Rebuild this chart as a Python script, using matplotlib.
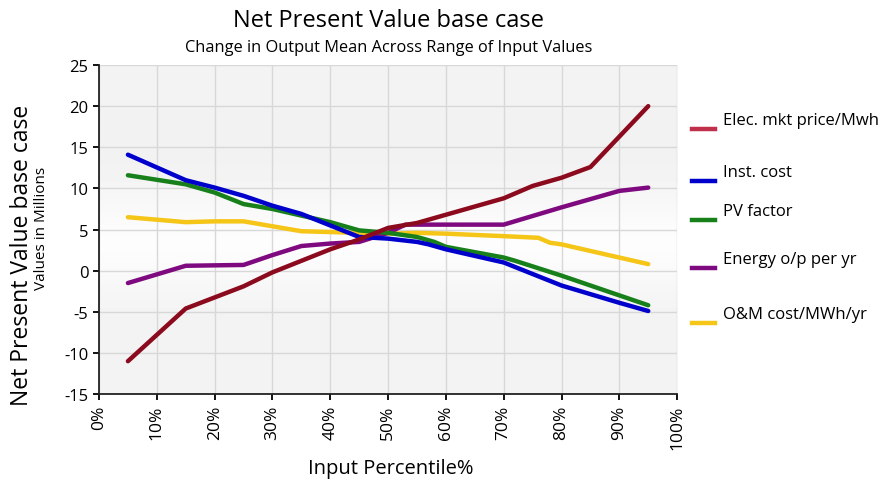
import matplotlib.pyplot as plt
import numpy as np
from matplotlib.lines import Line2D

# Input data (percentile in %, values in millions)
elec_x = [5, 15, 25, 30, 40, 45, 50, 55, 60, 65, 70, 75, 80, 85, 95]
elec_y = [-11.0, -4.6, -1.9, -0.2, 2.6, 3.8, 5.2, 5.8, 6.8, 7.8, 8.8, 10.3, 11.3, 12.6, 20.0]

inst_x = [5, 15, 20, 25, 30, 35, 40, 45, 50, 55, 57, 60, 70, 80, 90, 95]
inst_y = [14.1, 11.0, 10.1, 9.1, 7.9, 6.9, 5.5, 4.1, 3.9, 3.5, 3.2, 2.6, 1.0, -1.8, -3.9, -4.9]

pv_x = [5, 15, 20, 25, 30, 35, 40, 45, 50, 55, 58, 60, 70, 72, 80, 90, 95]
pv_y = [11.6, 10.5, 9.5, 8.1, 7.5, 6.7, 5.9, 4.9, 4.6, 4.1, 3.5, 2.9, 1.6, 1.2, -0.6, -3.0, -4.2]

energy_x = [5, 15, 25, 30, 35, 40, 45, 50, 53, 70, 80, 90, 95]
energy_y = [-1.5, 0.6, 0.7, 1.9, 3.0, 3.3, 3.5, 4.6, 5.6, 5.6, 7.7, 9.7, 10.1]

om_x = [5, 15, 20, 25, 30, 35, 40, 45, 50, 55, 60, 70, 76, 78, 80, 90, 95]
om_y = [6.5, 5.9, 6.0, 6.0, 5.4, 4.8, 4.7, 4.6, 4.5, 4.6, 4.5, 4.2, 4.0, 3.4, 3.2, 1.6, 0.8]

labels = ['Elec. mkt price/Mwh', 'Inst. cost', 'PV factor',
          'Energy o/p per yr', 'O&M cost/MWh/yr']
colors = ['#8c0a1e', '#0000cc', '#17801a', '#7f0a80', '#f5c518']
legend_colors = ['#c0304a', '#0000cc', '#17801a', '#7f0a80', '#f5c518']

plt.rcParams['font.family'] = ['Open Sans', 'DejaVu Sans']

fig = plt.figure(figsize=(8.84, 4.89), dpi=100)
ax = fig.add_axes([0.112, 0.192, 0.654, 0.673])

# soft gray background with lighter band in the middle
grad = np.array([0.955, 0.945, 0.945, 0.975, 1.0, 0.96, 0.95, 0.955])
ax.imshow(grad.reshape(-1, 1), cmap='gray', vmin=0, vmax=1, aspect='auto',
          extent=[0, 1, 0, 1], transform=ax.transAxes, zorder=0,
          interpolation='bicubic')

series = [(elec_x, elec_y), (inst_x, inst_y), (pv_x, pv_y),
          (energy_x, energy_y), (om_x, om_y)]
order = [4, 3, 2, 1, 0]
for i in order:
    x, y = series[i]
    ax.plot(x, y, color=colors[i], linewidth=3.2, solid_capstyle='round', zorder=3)

ax.set_xlim(0, 100)
ax.set_ylim(-15, 25)
ax.set_xticks(np.arange(0, 101, 10))
ax.set_xticklabels([f'{v}%' for v in range(0, 101, 10)], rotation=90, fontsize=12.5)
ax.set_yticks(np.arange(-15, 26, 5))
ax.set_yticklabels([str(v) for v in range(-15, 26, 5)], fontsize=12)
ax.grid(True, color='#d8d8d8', linewidth=1)
ax.set_axisbelow(True)
for s in ['top', 'right']:
    ax.spines[s].set_visible(False)
for s in ['left', 'bottom']:
    ax.spines[s].set_linewidth(1.3)
    ax.spines[s].set_color('#222222')
ax.tick_params(direction='out', length=4, width=1.3)

fig.text(0.44, 0.957, 'Net Present Value base case', ha='center', va='center', fontsize=17)
fig.text(0.44, 0.902, 'Change in Output Mean Across Range of Input Values',
         ha='center', va='center', fontsize=11.8)
fig.text(0.442, 0.04, 'Input Percentile%', ha='center', va='center', fontsize=14.5)
fig.text(0.025, 0.478, 'Net Present Value base case', rotation=90,
         ha='center', va='center', fontsize=16.5)
fig.text(0.047, 0.533, 'Values in Millions', rotation=90,
         ha='center', va='center', fontsize=11)

# manual legend on the right
leg_y = [0.735, 0.628, 0.548, 0.45, 0.338]
for lab, c, yy in zip(labels, legend_colors, leg_y):
    fig.add_artist(Line2D([0.783, 0.809], [yy, yy], color=c, linewidth=3.2,
                          transform=fig.transFigure))
    fig.text(0.818, yy + 0.018, lab, ha='left', va='center', fontsize=12)

fig.savefig('out.png', dpi=100)
